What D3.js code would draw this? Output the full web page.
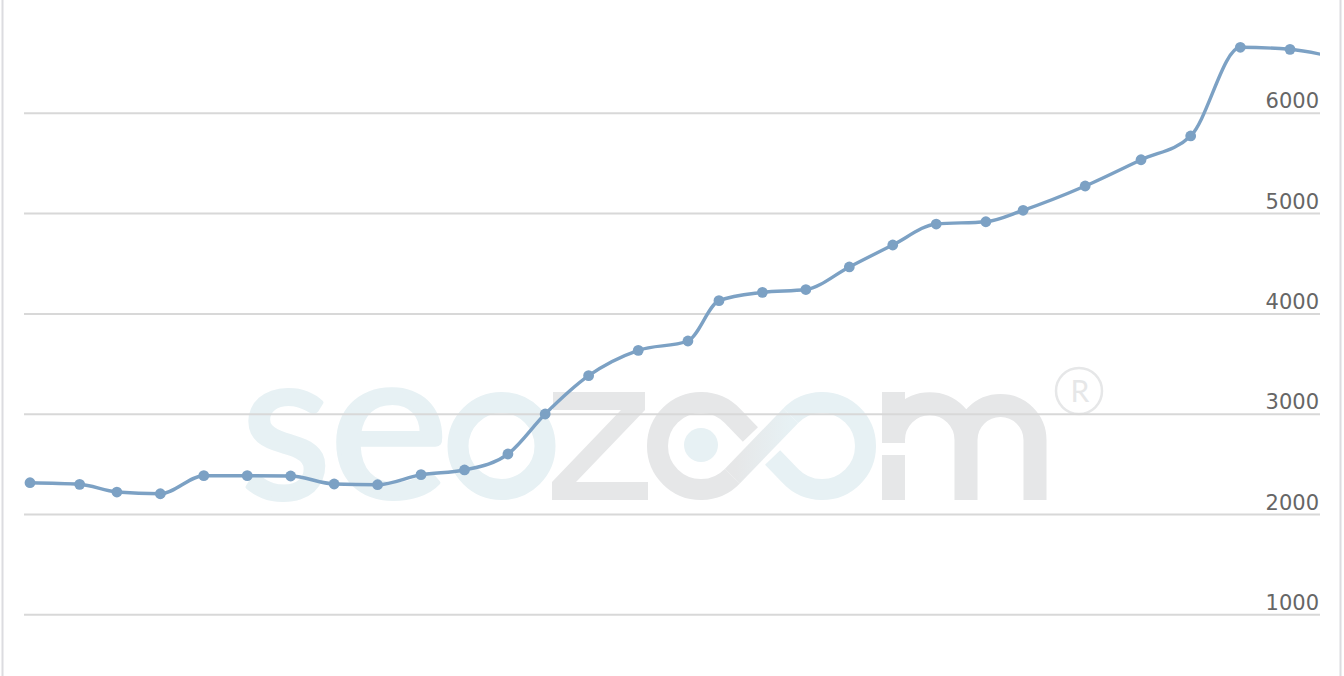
<!DOCTYPE html>
<html>
<head>
<meta charset="utf-8">
<script src="https://cdn.jsdelivr.net/npm/d3@7"></script>
<style>
  html, body { margin: 0; padding: 0; background: #ffffff; overflow: hidden; }
  svg { display: block; }
</style>
</head>
<body>
<svg id="chart" width="1344" height="676"></svg>
<script>
// ---- data ----
const dates = [
  "2023-01-02","2023-01-10","2023-01-16","2023-01-23","2023-01-30","2023-02-06",
  "2023-02-13","2023-02-20","2023-02-27","2023-03-06","2023-03-13","2023-03-20",
  "2023-03-26","2023-04-02","2023-04-10","2023-04-18","2023-04-23","2023-04-30",
  "2023-05-07","2023-05-14","2023-05-21","2023-05-28","2023-06-05","2023-06-11",
  "2023-06-21","2023-06-30","2023-07-08","2023-07-16","2023-07-24","2023-08-01"
];
const values = [
  2312, 2296, 2219, 2202, 2382, 2382,
  2379, 2299, 2292, 2392, 2439, 2598,
  2997, 3379, 3632, 3725, 4127, 4210,
  4238, 4463, 4682, 4891, 4914, 5028,
  5270, 5532, 5769, 6653, 6633, 6541
];
const yTicks = [1000, 2000, 3000, 4000, 5000, 6000];
const tickLabels = ["1000", "2000", "3000", "4000", "5000", "6000"];

// ---- setup ----
const W = 1344, H = 676;
const plot = { left: 24, right: 1320 };
const parse = d3.utcParse("%Y-%m-%d");
const data = dates.map((d, i) => ({ date: parse(d), value: values[i] }));

const x = d3.scaleUtc()
  .domain([data[0].date, data[28].date])
  .range([30, 1290]);
const y = d3.scaleLinear()
  .domain([0, 7000])
  .range([714.6, 12.5]);

const svg = d3.select("#chart");
svg.append("rect").attr("width", W).attr("height", H).attr("fill", "#ffffff");

// ---- watermark (seozoom logo) ----
const wmBlue = "#e7f1f4", wmGray = "#e6e7e8";
const wm = svg.append("g").attr("class", "watermark");
const defs = svg.append("defs");
const grad = defs.append("linearGradient")
  .attr("id", "wmGrad").attr("gradientUnits", "userSpaceOnUse")
  .attr("x1", 735).attr("y1", 0).attr("x2", 790).attr("y2", 0);
grad.append("stop").attr("offset", "0").attr("stop-color", wmGray);
grad.append("stop").attr("offset", "1").attr("stop-color", wmBlue);

wm.append("text").text("s")
  .attr("x", 286).attr("y", 498).attr("text-anchor", "middle")
  .attr("font-family", "Lato, 'Open Sans', sans-serif").attr("font-size", 210)
  .attr("fill", wmBlue).attr("stroke", wmBlue).attr("stroke-width", 4)
  .attr("stroke-linejoin", "round");
wm.append("text").text("e")
  .attr("x", 389).attr("y", 498).attr("text-anchor", "middle")
  .attr("font-family", "Lato, 'Open Sans', sans-serif").attr("font-size", 210)
  .attr("fill", wmBlue).attr("stroke", wmBlue).attr("stroke-width", 4)
  .attr("stroke-linejoin", "round")
  .attr("transform", "translate(389,0) scale(1.08,1) translate(-389,0)");
wm.append("circle").attr("cx", 501.5).attr("cy", 446).attr("r", 43.5)
  .attr("fill", "none").attr("stroke", wmBlue).attr("stroke-width", 21);
wm.append("path")
  .attr("d", "M553,392H645V410L576,482H648V500H552V482L621,410H553Z")
  .attr("fill", wmGray);
// infinity "oo"
wm.append("path")
  .attr("d", "M750.4,434.5L732.3,415.8A43.5,43.5 0 1 0 732.3,476.2")
  .attr("fill", "none").attr("stroke", wmGray).attr("stroke-width", 21);
wm.append("path")
  .attr("d", "M772.6,457.5L790.7,476.2A43.5,43.5 0 1 0 790.7,415.8")
  .attr("fill", "none").attr("stroke", wmBlue).attr("stroke-width", 21);
wm.append("path")
  .attr("d", "M732.3,476.2L790.7,415.8")
  .attr("fill", "none").attr("stroke", "url(#wmGrad)").attr("stroke-width", 21);
wm.append("circle").attr("cx", 701).attr("cy", 445).attr("r", 17).attr("fill", wmBlue);
// m
wm.append("path")
  .attr("d", "M893.5,392V443M893.5,455V500M893.5,440A36.25,36.25 0 0 1 966,440V500M966,440A34.5,34.5 0 0 1 1035,440V500")
  .attr("fill", "none").attr("stroke", wmGray).attr("stroke-width", 23);
// registered mark
wm.append("circle").attr("cx", 1079).attr("cy", 391).attr("r", 23)
  .attr("fill", "none").attr("stroke", wmGray).attr("stroke-width", 2.5);
wm.append("text").text("R")
  .attr("x", 1080).attr("y", 402).attr("text-anchor", "middle")
  .attr("font-family", "Lato, 'Open Sans', sans-serif").attr("font-size", 30)
  .attr("fill", wmGray);

// ---- borders ----
svg.append("line").attr("x1", 2.5).attr("x2", 2.5).attr("y1", 0).attr("y2", H)
  .attr("stroke", "#dcdce0").attr("stroke-width", 2);
svg.append("line").attr("x1", 1340.5).attr("x2", 1340.5).attr("y1", 0).attr("y2", H)
  .attr("stroke", "#dcdce0").attr("stroke-width", 2);

// ---- y axis (right, labels above gridlines) ----
const yAxis = d3.axisRight(y)
  .tickValues(yTicks)
  .tickSize(-(plot.right - plot.left))
  .tickFormat((d, i) => tickLabels[i]);
const ga = svg.append("g")
  .attr("transform", `translate(${plot.right},0)`)
  .call(yAxis);
ga.select(".domain").remove();
ga.selectAll(".tick line").attr("stroke", "#d8d8d8").attr("stroke-width", 2);
ga.selectAll(".tick text")
  .attr("x", -1).attr("dy", "-5px")
  .attr("text-anchor", "end")
  .attr("font-family", "'DejaVu Sans', Verdana, sans-serif")
  .attr("font-size", 21)
  .attr("fill", "#666666");

// ---- series ----
defs.append("clipPath").attr("id", "plotClip")
  .append("rect").attr("x", plot.left).attr("y", 0)
  .attr("width", plot.right - plot.left).attr("height", H);

const color = "#7ca1c4";
const line = d3.line()
  .x(d => x(d.date)).y(d => y(d.value))
  .curve(d3.curveMonotoneX);
const gs = svg.append("g").attr("clip-path", "url(#plotClip)");
gs.append("path").datum(data)
  .attr("d", line)
  .attr("fill", "none").attr("stroke", color).attr("stroke-width", 3.4)
  .attr("stroke-linejoin", "round").attr("stroke-linecap", "round");
gs.selectAll("circle.pt").data(data).join("circle")
  .attr("class", "pt")
  .attr("cx", d => x(d.date)).attr("cy", d => y(d.value))
  .attr("r", 5.4).attr("fill", color);
</script>
</body>
</html>
